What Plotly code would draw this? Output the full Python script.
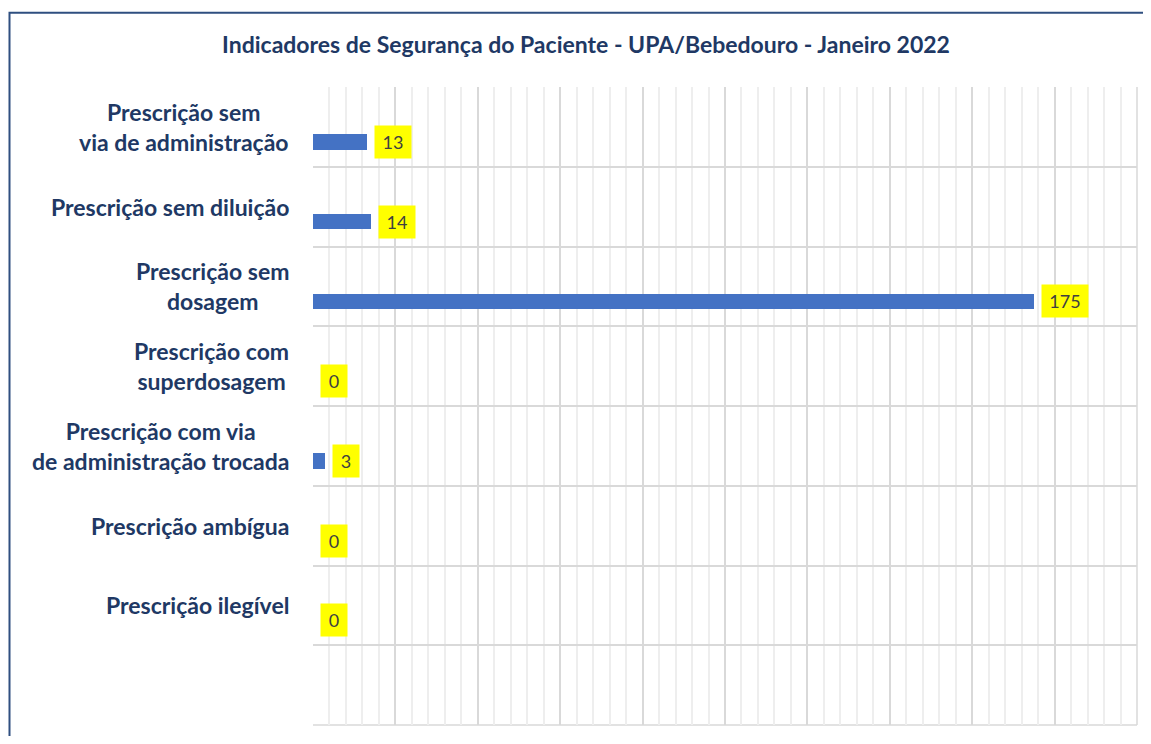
import plotly.graph_objects as go

categories = [
    "Prescrição sem<br>via de administração",
    "Prescrição sem diluição",
    "Prescrição sem<br>dosagem",
    "Prescrição com<br>superdosagem",
    "Prescrição com via<br>de administração trocada",
    "Prescrição ambígua",
    "Prescrição ilegível",
    " ",
]
values = [13, 14, 175, 0, 3, 0, 0, None]
title_text = "Indicadores de Segurança do Paciente - UPA/Bebedouro - Janeiro 2022"

NAVY = "#203864"
FONT = "Lato"

# page body has an 8px margin; figure laid out accordingly
W, H = 1143, 728
ML, MR, MT, MB = 305, 14, 79, 11
PW = W - ML - MR
PH = H - MT - MB

fig = go.Figure()
fig.add_trace(go.Bar(
    y=categories,
    x=values,
    orientation="h",
    marker=dict(color="#4472C4", line=dict(width=0)),
    width=0.19,
    offset=0.095,
    hoverinfo="skip",
))

annotations = []
for c in categories:
    if c.strip():
        annotations.append(dict(
            x=0, y=c, xref="paper", yref="y", text=c, showarrow=False,
            xanchor="right", yanchor="middle", align="center", xshift=-22,
            font=dict(family=FONT, size=23, color=NAVY, weight="bold"),
        ))
for c, v in zip(categories, values):
    if v is None:
        continue
    s = str(v)
    annotations.append(dict(
        x=v, y=c, xref="x", yref="y", text=s, showarrow=False,
        xanchor="left", yanchor="middle", xshift=7, yshift=-15,
        bgcolor="#FFFF00", width=14 + 10 * len(s), height=30,
        font=dict(family=FONT, size=18, color="#404040"),
    ))

x_left = (1.5 - ML) / PW
x_right = (W + 20 - ML) / PW
y_top = (MT + PH - 4.7) / PH
y_bot = -(MB + 20) / PH

fig.update_layout(
    width=W, height=H,
    margin=dict(l=ML, r=MR, t=MT, b=MB, autoexpand=False),
    paper_bgcolor="white", plot_bgcolor="white",
    showlegend=False,
    title=dict(
        text=title_text, x=578 / W, xanchor="center", y=1 - 37 / H, yanchor="middle",
        font=dict(family=FONT, size=23, color=NAVY, weight="bold"),
    ),
    annotations=annotations,
    xaxis=dict(
        range=[0, 200], dtick=20, showticklabels=False, ticks="",
        showgrid=True, gridcolor="#D9D9D9", gridwidth=1.5,
        minor=dict(dtick=4, showgrid=True, gridcolor="#EEEEEE", gridwidth=1.5),
        zeroline=False, showline=False, fixedrange=True,
    ),
    yaxis=dict(
        type="category", categoryorder="array", categoryarray=categories,
        autorange="reversed", showticklabels=False, ticks="",
        tickson="boundaries", showgrid=True, gridcolor="#D9D9D9", gridwidth=1.5,
        zeroline=False, showline=False, fixedrange=True,
    ),
    shapes=[
        dict(type="line", xref="paper", yref="paper", x0=1, x1=1, y0=0, y1=1,
             line=dict(color="#D9D9D9", width=1.5), layer="below"),
        dict(type="line", xref="paper", yref="paper", x0=0, x1=1, y0=0, y1=0,
             line=dict(color="#D9D9D9", width=1.5), layer="below"),
        dict(type="path", xref="paper", yref="paper",
             path=f"M {x_left} {y_bot} L {x_left} {y_top} L {x_right} {y_top}",
             line=dict(color="#2F4F80", width=2)),
    ],
    bargap=0,
)

fig.write_html("out.html", config={"displayModeBar": False})
